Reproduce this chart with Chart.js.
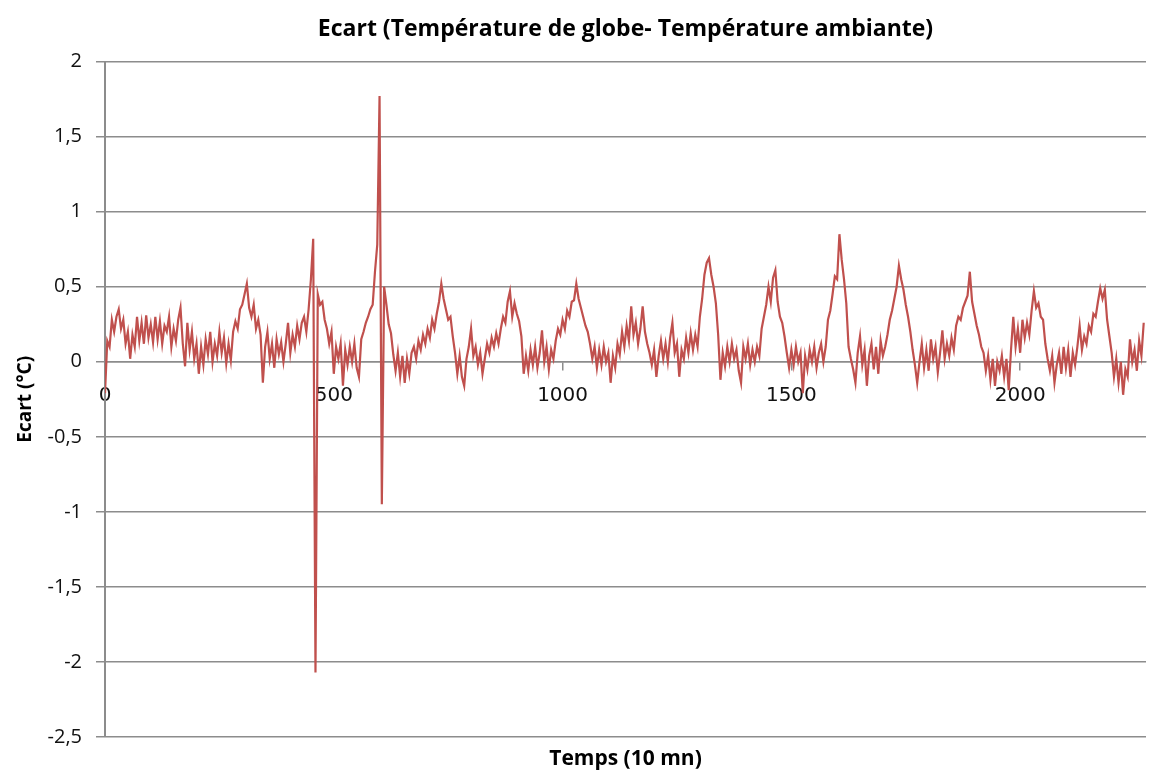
<!DOCTYPE html>
<html>
<head>
<meta charset="utf-8">
<title>Ecart</title>
<script src="https://cdn.jsdelivr.net/npm/chart.js@4.4.1/dist/chart.umd.min.js"></script>
<style>
  body { margin:0; background:#ffffff; }
</style>
</head>
<body>
<canvas id="EcartChart" width="1150" height="771"></canvas>
<script>
var step = 5; // one value read every 5 time steps (1 step = 10 mn)
var xMax = 2275;
var xTicks = [0, 500, 1000, 1500, 2000];
var yTicks = [-2.5, -2, -1.5, -1, -0.5, 0, 0.5, 1, 1.5, 2];

// ecart globe - ambiante
var ecart = [
  -0.21, 0.14, 0.10, 0.28, 0.20, 0.30, 0.35, 0.22, 0.28, 0.12, 0.20, 0.02, 0.18, 0.10, 0.30, 0.14, 0.26, 0.12, 0.31, 0.16,
  0.25, 0.13, 0.30, 0.15, 0.27, 0.12, 0.24, 0.20, 0.30, 0.10, 0.22, 0.14, 0.28, 0.36, 0.12, -0.03, 0.26, 0.08, 0.20, 0.02,
  0.12, -0.08, 0.10, -0.02, 0.15, 0.05, 0.20, 0.00, 0.12, 0.04, 0.20, 0.06, 0.16, -0.01, 0.12, 0.01, 0.20, 0.27, 0.22, 0.35,
  0.38, 0.45, 0.52, 0.36, 0.30, 0.38, 0.22, 0.28, 0.18, -0.14, 0.10, 0.20, 0.02, 0.12, -0.04, 0.15, 0.05, 0.13, 0.00, 0.12,
  0.26, 0.06, 0.18, 0.10, 0.24, 0.15, 0.26, 0.30, 0.20, 0.35, 0.55, 0.82, -2.07, 0.45, 0.38, 0.40, 0.28, 0.22, 0.12, 0.20,
  -0.08, 0.10, 0.02, 0.12, -0.16, 0.08, -0.02, 0.10, 0.00, 0.12, -0.04, -0.10, 0.15, 0.20, 0.26, 0.30, 0.35, 0.38, 0.60, 0.78,
  1.77, -0.95, 0.50, 0.38, 0.25, 0.19, 0.05, -0.06, 0.06, -0.10, 0.04, -0.14, 0.02, -0.08, 0.06, 0.10, 0.02, 0.14, 0.08, 0.18,
  0.12, 0.22, 0.16, 0.28, 0.22, 0.32, 0.40, 0.52, 0.42, 0.35, 0.28, 0.30, 0.17, 0.06, -0.08, 0.04, -0.10, -0.16, 0.02, 0.10,
  0.22, 0.04, 0.10, -0.02, 0.06, -0.08, 0.02, 0.12, 0.06, 0.16, 0.10, 0.19, 0.12, 0.22, 0.30, 0.26, 0.40, 0.47, 0.30, 0.39,
  0.32, 0.27, 0.17, -0.08, 0.04, -0.06, 0.08, -0.02, 0.10, -0.04, 0.06, 0.21, 0.00, 0.10, -0.05, 0.08, 0.02, 0.14, 0.22, 0.18,
  0.28, 0.22, 0.34, 0.30, 0.40, 0.41, 0.52, 0.42, 0.36, 0.30, 0.24, 0.20, 0.12, 0.02, 0.10, -0.04, 0.08, -0.02, 0.10, 0.00,
  0.06, -0.14, 0.04, -0.04, 0.12, 0.05, 0.20, 0.10, 0.24, 0.14, 0.37, 0.18, 0.26, 0.12, 0.22, 0.37, 0.20, 0.12, 0.06, -0.02,
  0.08, -0.10, 0.04, 0.14, 0.02, 0.12, 0.00, 0.16, 0.26, 0.06, 0.12, -0.10, 0.08, 0.02, 0.16, 0.06, 0.19, 0.08, 0.18, 0.10,
  0.30, 0.42, 0.58, 0.66, 0.69, 0.58, 0.50, 0.39, 0.18, -0.12, 0.06, -0.03, 0.10, 0.00, 0.12, 0.02, 0.08, -0.06, -0.14, 0.10,
  0.02, 0.12, -0.02, 0.08, 0.00, 0.10, 0.04, 0.22, 0.30, 0.38, 0.50, 0.40, 0.56, 0.61, 0.40, 0.30, 0.26, 0.17, 0.06, -0.04,
  0.08, -0.02, 0.10, 0.00, 0.06, -0.21, 0.04, -0.05, 0.08, 0.00, 0.10, -0.04, 0.06, 0.12, 0.00, 0.10, 0.28, 0.34, 0.45, 0.57,
  0.55, 0.85, 0.68, 0.55, 0.39, 0.10, 0.02, -0.05, -0.14, 0.06, 0.17, -0.02, 0.08, -0.16, 0.04, 0.12, -0.05, 0.10, -0.08, 0.14,
  0.04, 0.10, 0.18, 0.28, 0.34, 0.42, 0.50, 0.64, 0.55, 0.48, 0.38, 0.30, 0.20, 0.08, -0.02, -0.14, 0.00, 0.12, -0.04, 0.08,
  -0.06, 0.15, 0.02, 0.10, -0.07, 0.06, 0.21, 0.02, 0.12, 0.04, 0.16, 0.08, 0.24, 0.30, 0.28, 0.36, 0.40, 0.44, 0.60, 0.40,
  0.32, 0.24, 0.18, 0.10, 0.06, -0.06, 0.04, -0.12, 0.02, -0.16, 0.00, -0.06, 0.04, -0.10, 0.02, -0.19, 0.08, 0.30, 0.10, 0.22,
  0.06, 0.28, 0.16, 0.26, 0.18, 0.34, 0.47, 0.36, 0.39, 0.30, 0.28, 0.12, 0.02, -0.06, 0.04, -0.14, -0.02, 0.06, -0.08, 0.10,
  -0.04, 0.08, -0.10, 0.06, -0.02, 0.10, 0.24, 0.08, 0.17, 0.12, 0.24, 0.20, 0.32, 0.30, 0.40, 0.49, 0.42, 0.48, 0.28, 0.17,
  0.06, -0.10, 0.02, -0.14, 0.00, -0.22, -0.05, -0.10, 0.15, 0.00, 0.08, -0.06, 0.14, 0.04, 0.26
];

var gridGrey = '#8c8c8c';

function BuildPoints()
{
  let pts = [];
  for (let i = 0; i < ecart.length; i++)
  {
    pts.push({x: i * step, y: ecart[i]}); // temps index, ecart
  }
  return pts;
}

function LoadChart()
{
  new Chart('EcartChart', {
    type: 'line',
    data: {
      datasets: [{
        data: BuildPoints(),
        borderColor: '#c0504d',
        borderWidth: 2.2,
        pointRadius: 0,
        tension: 0,
        fill: false
      }]
    },
    options: {
      responsive: false,
      animation: false,
      devicePixelRatio: 1,
      layout: { padding: { left: 0, right: 4, top: 0, bottom: 0 } },
      plugins: {
        legend: { display: false },
        tooltip: { enabled: false },
        title: {
          display: true,
          fullSize: false,
          text: 'Ecart (Température de globe- Température ambiante)',
          color: '#000',
          font: { family: 'Open Sans', size: 23, weight: 'bold', lineHeight: 1.2 },
          padding: { top: 16, bottom: 18 }
        }
      },
      scales: {
        x: {
          type: 'linear',
          position: { y: 0 }, // axis crosses at 0 like in excel
          min: 0,
          max: xMax,
          afterBuildTicks: (s) => { s.ticks = xTicks.map((v) => ({value: v})); },
          grid: { drawOnChartArea: false, drawTicks: true, tickLength: 8, color: gridGrey, lineWidth: 1.5 },
          border: { display: true, color: gridGrey, width: 1.5 },
          ticks: {
            color: '#111',
            padding: 14,
            maxRotation: 0,
            font: { family: 'DejaVu Sans', size: 20 },
            callback: (v) => String(v)
          }
        },
        x2: {
          type: 'linear',
          position: 'bottom',
          min: 0,
          max: 1,
          afterFit: (s) => { s.height = 34; },
          grid: { display: false },
          border: { display: false },
          ticks: { display: false },
          title: {
            display: true,
            text: 'Temps (10 mn)',
            color: '#000',
            font: { family: 'Open Sans', size: 21, weight: 'bold', lineHeight: 1 },
            padding: { top: 0, bottom: 1 }
          }
        },
        y: {
          min: -2.5,
          max: 2,
          afterFit: (s) => { s.width = 105; },
          afterBuildTicks: (s) => { s.ticks = yTicks.map((v) => ({value: v})); },
          grid: { color: gridGrey, lineWidth: 1.5, tickLength: 9 },
          border: { display: true, color: gridGrey, width: 2 },
          ticks: {
            color: '#111',
            padding: 14,
            font: { family: 'Open Sans', size: 20 },
            callback: (v) => v.toString().replace('.', ',')
          },
          title: {
            display: true,
            text: 'Ecart (°C)',
            color: '#000',
            font: { family: 'Open Sans', size: 19, weight: 'bold', lineHeight: 1 },
            padding: { top: 16, bottom: 0 }
          }
        }
      }
    }
  });
}

LoadChart();
</script>
</body>
</html>
